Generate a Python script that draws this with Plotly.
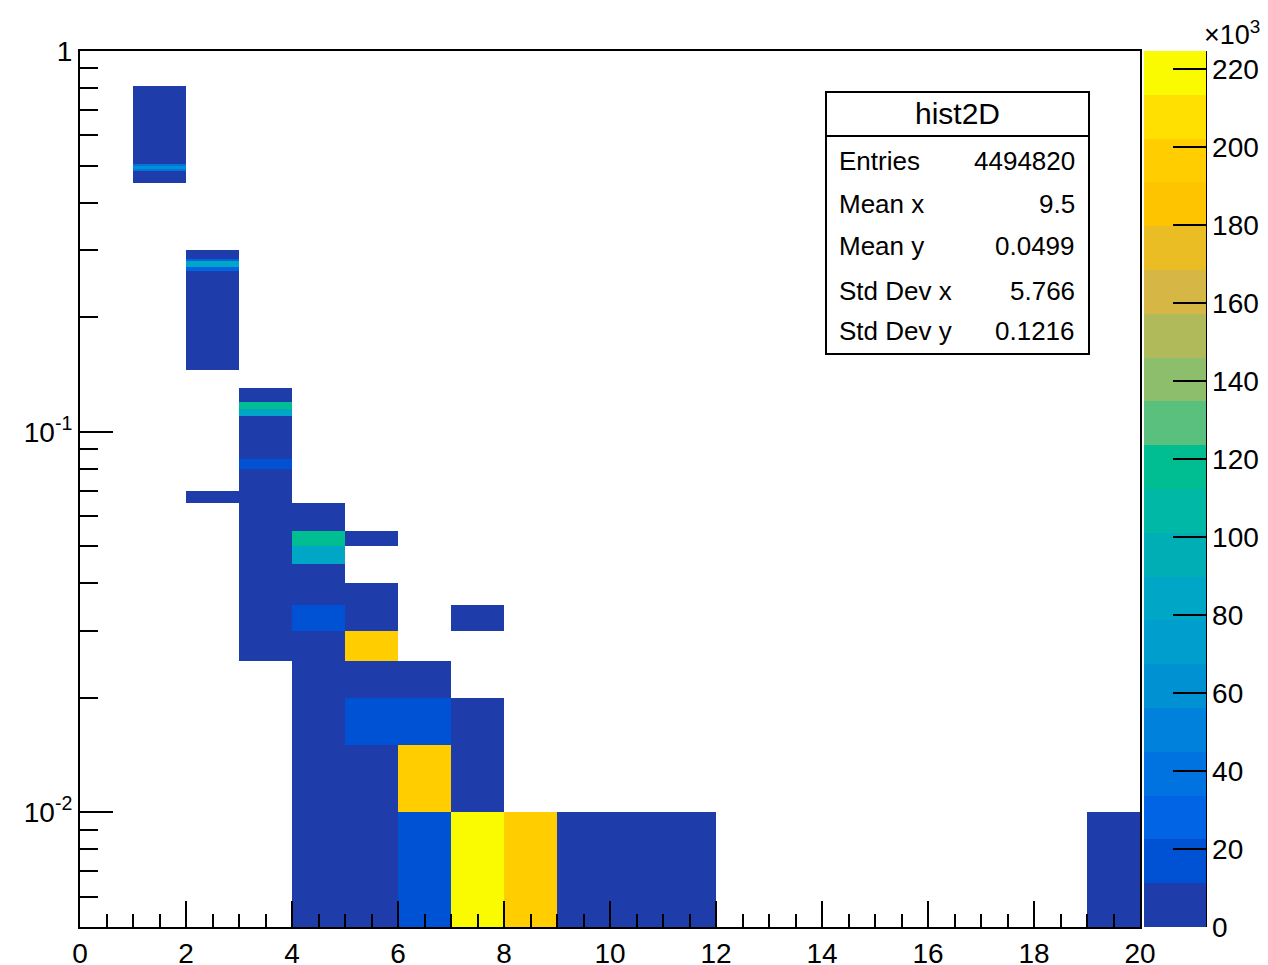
import plotly.graph_objects as go

# ---------------- data ----------------
x_edges = list(range(0, 21))                         # 20 x bins of width 1
y_edges = [round(0.005 * k, 3) for k in range(1, 201)]  # visible y bins 0.005 .. 1.0 (width 0.005)

# runs of y bins (per x bin) that share the same bin content
cell_x = [1, 1, 1, 1, 1,
          2, 2, 2, 2, 2, 2,
          3, 3, 3, 3, 3, 3,
          4, 4, 4, 4, 4, 4,
          5, 5, 5, 5, 5, 5,
          6, 6, 6, 6,
          7, 7, 7,
          8, 9, 10, 11, 19]
cell_ylo = [0.45, 0.485, 0.49, 0.50, 0.505,
            0.065, 0.145, 0.265, 0.27, 0.28, 0.285,
            0.025, 0.08, 0.085, 0.11, 0.115, 0.12,
            0.005, 0.03, 0.035, 0.045, 0.05, 0.055,
            0.005, 0.015, 0.02, 0.025, 0.03, 0.05,
            0.005, 0.01, 0.015, 0.02,
            0.005, 0.01, 0.03,
            0.005, 0.005, 0.005, 0.005, 0.005]
cell_yhi = [0.485, 0.49, 0.50, 0.505, 0.81,
            0.07, 0.265, 0.27, 0.28, 0.285, 0.30,
            0.08, 0.085, 0.11, 0.115, 0.12, 0.13,
            0.03, 0.035, 0.045, 0.05, 0.055, 0.065,
            0.015, 0.02, 0.025, 0.03, 0.04, 0.055,
            0.01, 0.015, 0.02, 0.025,
            0.01, 0.02, 0.035,
            0.01, 0.01, 0.01, 0.01, 0.01]
cell_count = [350, 40000, 62000, 40000, 300,
              1500, 450, 26000, 80000, 26000, 600,
              300, 16000, 400, 86000, 118000, 900,
              250, 16500, 700, 86000, 118000, 500,
              2500, 15000, 3000, 193000, 900, 600,
              14000, 192000, 14000, 2500,
              218000, 2800, 1200,
              196000, 6500, 5000, 4000, 7000]

z_min, z_max = 0, 224741
cbar_ticks = [0, 20000, 40000, 60000, 80000, 100000, 120000, 140000, 160000, 180000, 200000, 220000]
cbar_labels = ["0", "20", "40", "60", "80", "100", "120", "140", "160", "180", "200", "220"]

y_tickvals = [0.01, 0.1, 1]
y_ticktext = ["10<sup>-2</sup>", "10<sup>-1</sup>", "1"]
y_minor = [m * 10.0 ** e for e in (-3, -2, -1) for m in range(2, 10) if m * 10.0 ** e >= 0.005]

stat_title = "hist2D"
stat_names = ["Entries", "Mean x", "Mean y", "Std Dev x", "Std Dev y"]
stat_values = ["4494820", "9.5", "0.0499", "5.766", "0.1216"]

# ---------------- build z grid ----------------
n_rows = len(y_edges) - 1
n_cols = len(x_edges) - 1
z = [[None] * n_cols for _ in range(n_rows)]
for cx, lo, hi, c in zip(cell_x, cell_ylo, cell_yhi, cell_count):
    k0 = int(round(lo / 0.005)) - 1
    k1 = int(round(hi / 0.005)) - 1
    for k in range(k0, k1):
        z[k][cx] = c

# discrete palette (20 contour levels)
band_colors = [
    "rgb(31,61,170)", "rgb(0,82,212)", "rgb(0,100,228)", "rgb(0,115,225)",
    "rgb(0,130,220)", "rgb(0,145,210)", "rgb(0,158,204)", "rgb(0,166,198)",
    "rgb(0,175,182)", "rgb(0,184,166)", "rgb(0,190,146)", "rgb(90,192,125)",
    "rgb(140,190,108)", "rgb(176,186,90)", "rgb(214,183,70)", "rgb(234,189,36)",
    "rgb(255,196,0)", "rgb(255,205,0)", "rgb(255,224,0)", "rgb(250,250,0)",
]
nb = len(band_colors)
colorscale = []
for i, c in enumerate(band_colors):
    colorscale.append([i / nb, c])
    colorscale.append([(i + 1) / nb, c])

# ---------------- layout geometry ----------------
W, H = 1268, 965
L, R, T, B = 80, 1140, 51, 927


def px(xp):
    return (xp - L) / (R - L)


def py(yp):
    return (B - yp) / (B - T)


FONT = "Liberation Sans, Arial, Helvetica, sans-serif"
TICK_SIZE = 28

fig = go.Figure()
fig.add_trace(go.Heatmap(
    x=x_edges, y=y_edges, z=z,
    zmin=z_min, zmax=z_max,
    colorscale=colorscale,
    hoverongaps=False,
    colorbar=dict(
        thickness=62, thicknessmode="pixels",
        len=1, lenmode="fraction",
        x=px(1144), xanchor="left", xpad=0,
        y=0.5, yanchor="middle", ypad=0,
        outlinewidth=0,
        ticks="inside", ticklen=33, tickwidth=2, tickcolor="black",
        tickmode="array", tickvals=cbar_ticks, ticktext=cbar_labels,
        tickfont=dict(family=FONT, size=TICK_SIZE, color="black"),
    ),
))

fig.update_layout(
    width=W, height=H,
    margin=dict(l=L, r=W - R, t=T, b=H - B, pad=0, autoexpand=False),
    paper_bgcolor="white", plot_bgcolor="white",
    font=dict(family=FONT, color="black"),
    showlegend=False,
    xaxis=dict(
        range=[0, 20], showgrid=False, zeroline=False,
        showline=True, linecolor="black", linewidth=2, mirror=True,
        ticks="inside", ticklen=26, tickwidth=2, tickcolor="black",
        tick0=0, dtick=2,
        tickfont=dict(family=FONT, size=TICK_SIZE, color="black"),
        minor=dict(ticks="inside", ticklen=13, tickwidth=2, tickcolor="black",
                   dtick=0.5, tick0=0, showgrid=False),
    ),
    yaxis=dict(
        type="log", range=[-2.301, 0], showgrid=False, zeroline=False,
        showline=True, linecolor="black", linewidth=2, mirror=True,
        ticks="inside", ticklen=33, tickwidth=2, tickcolor="black",
        tickmode="array", tickvals=y_tickvals, ticktext=y_ticktext,
        tickfont=dict(family=FONT, size=TICK_SIZE, color="black"),
        minor=dict(ticks="inside", ticklen=18, tickwidth=2, tickcolor="black",
                   tickmode="array", tickvals=y_minor, showgrid=False),
    ),
)

shapes = []
# right axis line of the palette
shapes.append(dict(type="line", xref="paper", yref="paper",
                   x0=px(1206), x1=px(1206), y0=0, y1=1,
                   line=dict(color="black", width=2)))
# stats box
shapes.append(dict(type="rect", xref="paper", yref="paper",
                   x0=px(826), x1=px(1089), y0=py(354), y1=py(92),
                   line=dict(color="black", width=2), fillcolor="white", layer="above"))
shapes.append(dict(type="line", xref="paper", yref="paper",
                   x0=px(826), x1=px(1089), y0=py(136), y1=py(136),
                   line=dict(color="black", width=2)))
fig.update_layout(shapes=shapes)

annotations = [
    dict(text="×10<sup>3</sup>", xref="paper", yref="paper", x=px(1202), y=py(33),
         xanchor="left", yanchor="middle", showarrow=False,
         font=dict(family=FONT, size=27, color="black")),
    dict(text=stat_title, xref="paper", yref="paper", x=px(957), y=py(113),
         xanchor="center", yanchor="middle", showarrow=False,
         font=dict(family=FONT, size=30, color="black")),
]
row_y = [161, 204, 246, 291, 331]
for name, val, yy in zip(stat_names, stat_values, row_y):
    annotations.append(dict(text=name, xref="paper", yref="paper", x=px(837), y=py(yy),
                            xanchor="left", yanchor="middle", showarrow=False,
                            font=dict(family=FONT, size=26, color="black")))
    annotations.append(dict(text=val, xref="paper", yref="paper", x=px(1077), y=py(yy),
                            xanchor="right", yanchor="middle", showarrow=False,
                            font=dict(family=FONT, size=26, color="black")))
fig.update_layout(annotations=annotations)

fig.write_html("out.html")
